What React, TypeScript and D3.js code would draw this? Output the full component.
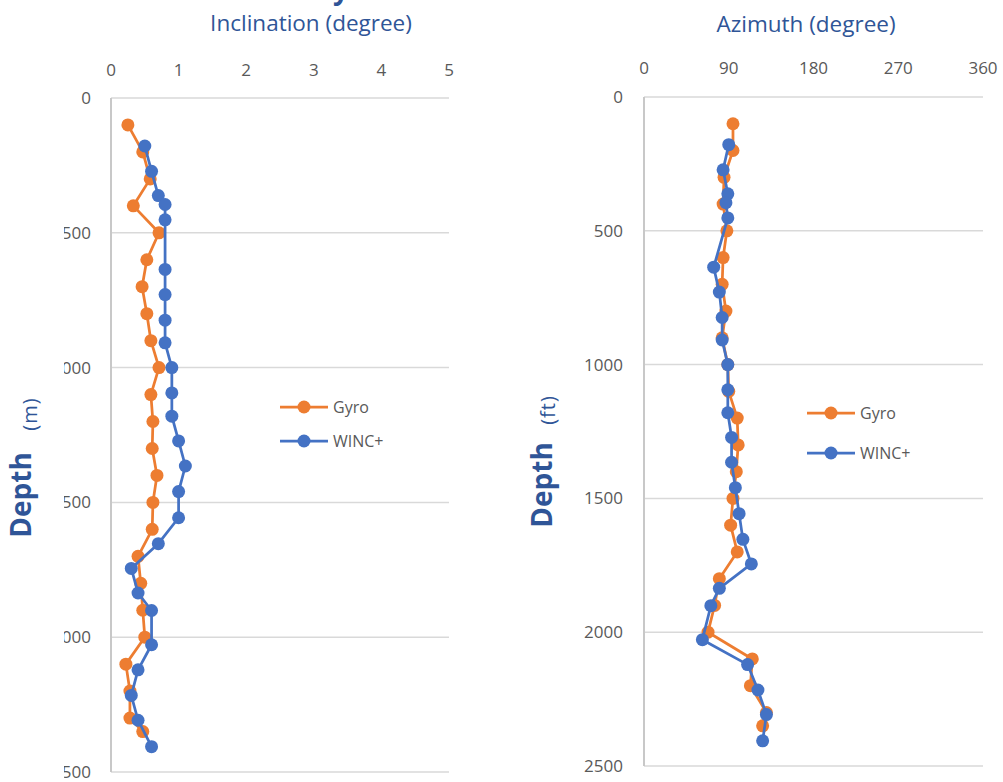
import React from "react";
import * as d3 from "d3";

const gyroDepth = [100, 200, 300, 400, 500, 600, 700, 800, 900, 1000, 1100, 1200, 1300, 1400, 1500, 1600, 1700, 1800, 1900, 2000, 2100, 2200, 2300, 2350];
const gyroInc = [0.25, 0.47, 0.58, 0.33, 0.71, 0.53, 0.46, 0.53, 0.59, 0.71, 0.59, 0.62, 0.61, 0.68, 0.62, 0.61, 0.4, 0.44, 0.47, 0.5, 0.22, 0.28, 0.28, 0.47];
const gyroAz = [94.5, 94.5, 85, 84, 88, 84, 83, 87, 83, 89, 90, 99, 100, 98, 94.5, 92, 99, 80, 75, 68, 115, 113, 130, 126];

const wincDepth = [178, 272, 362, 395, 452, 636, 729, 824, 908, 1000, 1094, 1180, 1272, 1365, 1460, 1557, 1653, 1745, 1836, 1901, 2028, 2121, 2216, 2308, 2406];
const wincInc = [0.5, 0.6, 0.7, 0.8, 0.8, 0.8, 0.8, 0.8, 0.8, 0.9, 0.9, 0.9, 1.0, 1.1, 1.0, 1.0, 0.7, 0.3, 0.4, 0.6, 0.6, 0.4, 0.3, 0.4, 0.6];
const wincAz = [90, 84, 89, 87, 89, 74, 80, 83, 83, 89, 89, 89, 93, 93, 97, 101, 105, 114, 80, 71, 62, 110, 121, 130, 126];

const incTicks = [0, 1, 2, 3, 4, 5];
const azTicks = [0, 90, 180, 270, 360];
const depthTicks = [0, 500, 1000, 1500, 2000, 2500];
const seriesNames = ["Gyro", "WINC+"];

const ORANGE = "#ED7D31";
const BLUE = "#4472C4";
const GRID = "#D9D9D9";
const LABEL = "#595959";
const TITLE = "#2F5597";
const FONT = "'Open Sans', 'Liberation Sans', Arial, sans-serif";

type Pt = [number, number];

function Series({ pts, color }: { pts: Pt[]; color: string }) {
  const line = d3.line<Pt>().x((d) => d[0]).y((d) => d[1]);
  return (
    <g>
      <path d={line(pts) || ""} fill="none" stroke={color} strokeWidth={2.75} strokeLinejoin="round" />
      {pts.map((p, i) => (
        <circle key={i} cx={p[0]} cy={p[1]} r={6.5} fill={color} />
      ))}
    </g>
  );
}

function Legend({ x, y1, y2 }: { x: number; y1: number; y2: number }) {
  const items = [
    { name: seriesNames[0], color: ORANGE, y: y1 },
    { name: seriesNames[1], color: BLUE, y: y2 },
  ];
  return (
    <g>
      {items.map((it) => (
        <g key={it.name}>
          <line x1={x} x2={x + 48} y1={it.y} y2={it.y} stroke={it.color} strokeWidth={2.75} />
          <circle cx={x + 24} cy={it.y} r={6.5} fill={it.color} />
          <text x={x + 53} y={it.y} dy="0.35em" fontSize={16} fill={LABEL} fontFamily={FONT}>
            {it.name}
          </text>
        </g>
      ))}
    </g>
  );
}

export default function App() {
  // Left panel: inclination
  const xInc = d3.scaleLinear().domain([0, 5]).range([111, 449]);
  const yL = d3.scaleLinear().domain([0, 2500]).range([98, 772]);
  // Right panel: azimuth
  const xAz = d3.scaleLinear().domain([0, 360]).range([644, 983]);
  const yR = d3.scaleLinear().domain([0, 2500]).range([97, 766]);

  const gyroIncPts: Pt[] = gyroDepth.map((d, i) => [xInc(gyroInc[i]), yL(d)]);
  const wincIncPts: Pt[] = wincDepth.map((d, i) => [xInc(wincInc[i]), yL(d)]);
  const gyroAzPts: Pt[] = gyroDepth.map((d, i) => [xAz(gyroAz[i]), yR(d)]);
  const wincAzPts: Pt[] = wincDepth.map((d, i) => [xAz(wincAz[i]), yR(d)]);

  return (
    <svg
      width={1003}
      height={782}
      style={{ position: "absolute", left: 0, top: 0, background: "#fff", overflow: "hidden" }}
      fontFamily={FONT}
    >
      <defs>
        <clipPath id="leftTickClip">
          <rect x={64} y={0} width={60} height={782} />
        </clipPath>
      </defs>
      <rect x={0} y={0} width={1003} height={782} fill="#fff" />

      {/* chart title, cut off at the top edge as in the reference */}
      <text x={349} y={-1.5} textAnchor="end" fontSize={28} fontWeight="bold" fill={TITLE}>
        Inclination Survey
      </text>

      {/* ===== Left panel ===== */}
      <text x={311} y={31} textAnchor="middle" fontSize={22.5} fill={TITLE}>
        Inclination (degree)
      </text>
      {depthTicks.map((t) => (
        <line key={t} x1={xInc(0)} x2={xInc(5)} y1={yL(t)} y2={yL(t)} stroke={GRID} strokeWidth={1.5} />
      ))}
      <line x1={xInc(0)} x2={xInc(0)} y1={yL(0)} y2={yL(2500)} stroke="#C8C8C8" strokeWidth={2} />
      {incTicks.map((t) => (
        <text key={t} x={xInc(t)} y={70} dy="0.35em" textAnchor="middle" fontSize={17} fill={LABEL}>
          {t}
        </text>
      ))}
      <g clipPath="url(#leftTickClip)">
        {depthTicks.map((t) => (
          <text key={t} x={91} y={yL(t)} dy="0.35em" textAnchor="end" fontSize={17} fill={LABEL}>
            {t}
          </text>
        ))}
      </g>
      <text transform="translate(31,495) rotate(-90)" textAnchor="middle" fontSize={28} fontWeight="bold" fill={TITLE}>
        Depth
      </text>
      <text transform="translate(37,414) rotate(-90)" textAnchor="middle" fontSize={20} letterSpacing={1} fill={TITLE}>
        (m)
      </text>
      <Series pts={gyroIncPts} color={ORANGE} />
      <Series pts={wincIncPts} color={BLUE} />
      <Legend x={280} y1={407} y2={441} />

      {/* ===== Right panel ===== */}
      <text x={806} y={32} textAnchor="middle" fontSize={22.5} fill={TITLE}>
        Azimuth (degree)
      </text>
      {depthTicks.map((t) => (
        <line key={t} x1={xAz(0)} x2={xAz(360)} y1={yR(t)} y2={yR(t)} stroke={GRID} strokeWidth={1.5} />
      ))}
      <line x1={xAz(0)} x2={xAz(0)} y1={yR(0)} y2={yR(2500)} stroke="#C8C8C8" strokeWidth={2} />
      {azTicks.map((t) => (
        <text key={t} x={xAz(t)} y={68} dy="0.35em" textAnchor="middle" fontSize={17} fill={LABEL}>
          {t}
        </text>
      ))}
      {depthTicks.map((t) => (
        <text key={t} x={623} y={yR(t)} dy="0.35em" textAnchor="end" fontSize={17} fill={LABEL}>
          {t}
        </text>
      ))}
      <text transform="translate(552,485) rotate(-90)" textAnchor="middle" fontSize={28} fontWeight="bold" fill={TITLE}>
        Depth
      </text>
      <text transform="translate(555,410) rotate(-90)" textAnchor="middle" fontSize={20} letterSpacing={1} fill={TITLE}>
        (ft)
      </text>
      <Series pts={gyroAzPts} color={ORANGE} />
      <Series pts={wincAzPts} color={BLUE} />
      <Legend x={807} y1={413} y2={453} />
    </svg>
  );
}
